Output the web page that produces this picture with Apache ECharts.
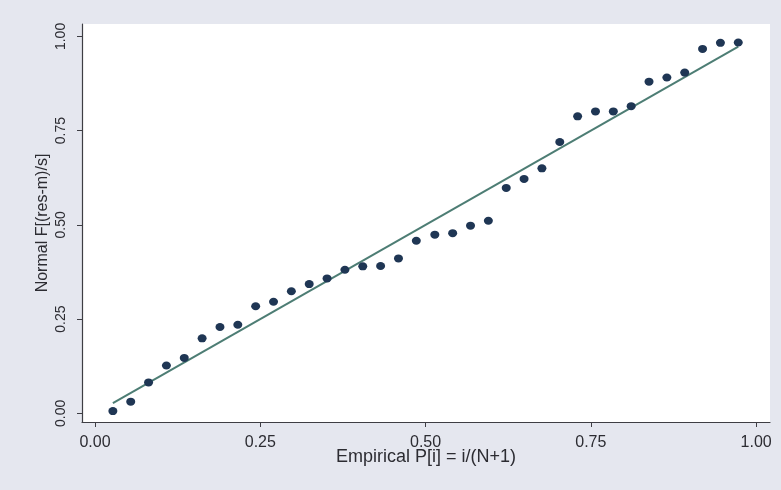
<!DOCTYPE html>
<html>
<head>
<meta charset="utf-8">
<script src="https://cdn.jsdelivr.net/npm/echarts@6/dist/echarts.min.js"></script>
<style>
html,body{margin:0;padding:0;background:#e5e7ef;}
#chart{width:781px;height:490px;}
</style>
</head>
<body>
<div id="chart"></div>
<script>
// Empirical P[i] = i/(N+1), N = 36
var empiricalP = [0.027, 0.054, 0.081, 0.108, 0.135, 0.162, 0.189, 0.216, 0.243, 0.270,
                  0.297, 0.324, 0.351, 0.378, 0.405, 0.432, 0.459, 0.486, 0.514, 0.541,
                  0.568, 0.595, 0.622, 0.649, 0.676, 0.703, 0.730, 0.757, 0.784, 0.811,
                  0.838, 0.865, 0.892, 0.919, 0.946, 0.973];
// Normal F[(res-m)/s]
var normalF = [0.006, 0.031, 0.082, 0.127, 0.147, 0.199, 0.229, 0.235, 0.284, 0.296,
               0.324, 0.343, 0.358, 0.381, 0.390, 0.391, 0.411, 0.458, 0.474, 0.478,
               0.498, 0.511, 0.598, 0.622, 0.650, 0.720, 0.788, 0.801, 0.801, 0.815,
               0.880, 0.891, 0.904, 0.967, 0.983, 0.984];
var xTicks = [0, 0.25, 0.5, 0.75, 1];
var yTicks = [0, 0.25, 0.5, 0.75, 1];
var xTitle = 'Empirical P[i] = i/(N+1)';
var yTitle = 'Normal F[(res-m)/s]';

var points = empiricalP.map(function (x, i) { return [x, normalF[i]]; });
var n = empiricalP.length;
var diagonal = [[empiricalP[0], empiricalP[0]], [empiricalP[n - 1], empiricalP[n - 1]]];

var chart = echarts.init(document.getElementById('chart'));
var textColor = '#2c2c32';
var axisColor = '#3e3e44';
chart.setOption({
  backgroundColor: '#e5e7ef',
  animation: false,
  grid: {left: 82, right: 11, top: 24, bottom: 68, show: true, backgroundColor: '#ffffff', borderWidth: 0},
  xAxis: {
    type: 'value', min: -0.0197, max: 1.021,
    name: xTitle, nameLocation: 'middle', nameGap: 26, nameMoveOverlap: false,
    nameTextStyle: {fontFamily: 'Liberation Sans, Arial', fontSize: 18, color: textColor},
    axisLine: {show: true, onZero: false, lineStyle: {color: axisColor, width: 1.2}},
    axisTick: {show: true, length: 5, customValues: xTicks, lineStyle: {color: axisColor}},
    axisLabel: {customValues: xTicks, margin: 13, fontFamily: 'Liberation Sans, Arial', fontSize: 16, color: textColor,
      formatter: function (v) { return v.toFixed(2); }},
    splitLine: {show: false}
  },
  yAxis: {
    type: 'value', min: -0.023, max: 1.033,
    name: yTitle, nameLocation: 'middle', nameGap: 31, nameRotate: 90, nameMoveOverlap: false,
    nameTextStyle: {fontFamily: 'Liberation Sans, Arial', fontSize: 16, color: textColor},
    axisLine: {show: true, onZero: false, lineStyle: {color: axisColor, width: 1.2}},
    axisTick: {show: true, length: 5, customValues: yTicks, lineStyle: {color: axisColor}},
    axisLabel: {customValues: yTicks, rotate: 90, margin: 14, fontFamily: 'Liberation Sans, Arial', fontSize: 14, color: textColor,
      formatter: function (v) { return v.toFixed(2); }},
    splitLine: {show: false}
  },
  series: [
    {
      type: 'line', data: diagonal, symbol: 'none', z: 2,
      lineStyle: {color: '#4d7d74', width: 2}
    },
    {
      type: 'scatter', data: points, symbol: 'circle', symbolSize: [9, 8], z: 3,
      itemStyle: {color: '#1f3654', opacity: 1}
    }
  ]
});
</script>
</body>
</html>
